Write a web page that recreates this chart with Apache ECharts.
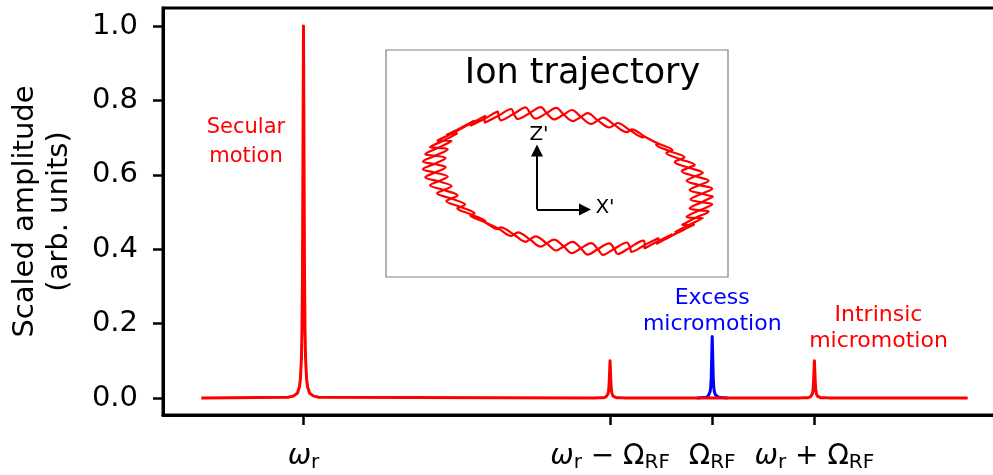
<!DOCTYPE html>
<html>
<head>
<meta charset="utf-8">
<script src="https://cdn.jsdelivr.net/npm/echarts@6.0.0/dist/echarts.min.js"></script>
<style>
  html, body { margin: 0; padding: 0; background: #fff; }
  #chart { width: 993px; height: 475px; }
</style>
</head>
<body>
<div id="chart"></div>
<script>
// Motional spectrum: red = secular motion + intrinsic micromotion sidebands,
// blue = excess micromotion at the RF drive frequency.
const spectrumFreq = [
  2.00,
  2.85, 2.90, 2.94, 2.96, 2.97, 2.98, 2.985, 2.99, 2.995, 3.00, 3.005, 3.01, 3.015, 3.02, 3.03, 3.04, 3.06, 3.10, 3.15,
  5.85, 5.90, 5.94, 5.96, 5.97, 5.98, 5.985, 5.99, 5.995, 6.00, 6.005, 6.01, 6.015, 6.02, 6.03, 6.04, 6.06, 6.10, 6.15,
  7.85, 7.90, 7.94, 7.96, 7.97, 7.98, 7.985, 7.99, 7.995, 8.00, 8.005, 8.01, 8.015, 8.02, 8.03, 8.04, 8.06, 8.10, 8.15,
  9.50
];
const spectrumAmp = [
  0.000,
  0.002, 0.005, 0.013, 0.030, 0.052, 0.109, 0.179, 0.329, 0.662, 1.000, 0.662, 0.329, 0.179, 0.109, 0.052, 0.030, 0.013, 0.005, 0.002,
  0.000, 0.001, 0.001, 0.003, 0.005, 0.011, 0.018, 0.033, 0.066, 0.100, 0.066, 0.033, 0.018, 0.011, 0.005, 0.003, 0.001, 0.001, 0.000,
  0.000, 0.001, 0.001, 0.003, 0.005, 0.011, 0.018, 0.033, 0.066, 0.100, 0.066, 0.033, 0.018, 0.011, 0.005, 0.003, 0.001, 0.001, 0.000,
  0.000
];
const excessFreq = [6.85, 6.90, 6.94, 6.96, 6.97, 6.98, 6.985, 6.99, 6.995, 7.00, 7.005, 7.01, 7.015, 7.02, 7.03, 7.04, 7.06, 7.10, 7.15];
const excessAmp  = [0.000, 0.001, 0.002, 0.005, 0.009, 0.018, 0.030, 0.054, 0.109, 0.165, 0.109, 0.054, 0.030, 0.018, 0.009, 0.005, 0.002, 0.001, 0.000];

// Frequency axis ticks and their labels
const xTickValues = [3, 6, 7, 8];
const xTickLabels = [
  '{w|ω}{s|r}',
  '{w|ω}{s|r}{o| − Ω}{s|RF}',
  '{o|Ω}{s|RF}',
  '{w|ω}{s|r}{o| + Ω}{s|RF}'
];
const yTickValues = [0, 0.2, 0.4, 0.6, 0.8, 1.0];

// Ion trajectory in the X'-Z' plane, two secular orbits.
// Turning points of the RF micromotion along the path:
const trajX = [
  1.454, 1.216, 1.406, 1.137, 1.267, 0.983, 1.044, 0.764, 0.754, 0.496,
  0.414, 0.196, 0.047, -0.118, -0.324, -0.423, -0.672, -0.701, -0.977, -0.934,
  -1.218, -1.105, -1.380, -1.203, -1.451, -1.224, -1.427, -1.164, -1.310, -1.028,
  -1.107, -0.824, -0.832, -0.567, -0.502, -0.273, -0.140, 0.039, 0.232, 0.349,
  0.589, 0.636, 0.906, 0.881, 1.165, 1.068, 1.348, 1.186, 1.442,
  1.226, 1.442, 1.186, 1.348, 1.068, 1.165, 0.881, 0.906, 0.636, 0.589,
  0.349, 0.232, 0.039, -0.140, -0.273, -0.502, -0.567, -0.832, -0.824, -1.107,
  -1.028, -1.310, -1.164, -1.427, -1.224, -1.451, -1.203, -1.380, -1.105, -1.218,
  -0.934, -0.977, -0.701, -0.672, -0.423, -0.324, -0.118, 0.047, 0.196, 0.414,
  0.496, 0.754, 0.764, 1.044, 0.983, 1.267, 1.137, 1.406, 1.216
];
const trajZ = [
  -0.156, -0.091, 0.003, 0.098, 0.161, 0.280, 0.308, 0.445, 0.436, 0.580,
  0.535, 0.678, 0.599, 0.731, 0.623, 0.736, 0.607, 0.693, 0.552, 0.605,
  0.460, 0.477, 0.338, 0.318, 0.194, 0.138, 0.037, -0.051, -0.122, -0.236,
  -0.273, -0.406, -0.406, -0.550, -0.513, -0.657, -0.586, -0.722, -0.621, -0.739,
  -0.615, -0.708, -0.569, -0.631, -0.486, -0.512, -0.371, -0.360, -0.232,
  -0.185, -0.077, 0.003, 0.082, 0.191, 0.237, 0.366, 0.375, 0.517, 0.489,
  0.634, 0.571, 0.710, 0.616, 0.739, 0.620, 0.720, 0.584, 0.654, 0.510,
  0.545, 0.402, 0.401, 0.268, 0.230, 0.117, 0.044, -0.043, -0.145, -0.199,
  -0.324, -0.343, -0.482, -0.463, -0.608, -0.554, -0.695, -0.609, -0.736, -0.623,
  -0.730, -0.597, -0.675, -0.532, -0.576, -0.432, -0.440, -0.304, -0.275
];
// Points where the two orbits cross (micromotion passing through the secular path)
const crossX = [
  1.337, 1.315, 1.272, 1.207, 1.123, 1.020, 0.901, 0.767, 0.620, 0.463,
  0.298, 0.129, -0.043, -0.214, -0.381, -0.542, -0.695, -0.835, -0.963, -1.074,
  -1.168, -1.242, -1.296, -1.329, -1.340, -1.329, -1.296, -1.242, -1.168, -1.074,
  -0.963, -0.835, -0.695, -0.542, -0.381, -0.214, -0.043, 0.129, 0.298, 0.463,
  0.620, 0.767, 0.901, 1.020, 1.123, 1.207, 1.272, 1.315, 1.337
];
const crossZ = [
  -0.127, -0.041, 0.047, 0.133, 0.218, 0.298, 0.374, 0.444, 0.507, 0.561,
  0.606, 0.641, 0.665, 0.679, 0.681, 0.672, 0.653, 0.622, 0.581, 0.531,
  0.472, 0.405, 0.332, 0.253, 0.170, 0.084, -0.003, -0.090, -0.176, -0.259,
  -0.337, -0.410, -0.476, -0.535, -0.584, -0.624, -0.654, -0.673, -0.681, -0.678,
  -0.664, -0.639, -0.603, -0.557, -0.503, -0.440, -0.369, -0.293, -0.212
];

const FONT = 'DejaVu Sans';
const RED = '#ff0000';
const BLUE = '#0000ff';

// Path order: turning point, then the following crossing point; closed at the end.
const trajectory = [];
trajX.forEach((x, n) => {
  trajectory.push([x, trajZ[n]]);
  const c = n % crossX.length;
  trajectory.push([crossX[c], crossZ[c]]);
});
trajectory.push([trajX[0], trajZ[0]]);

const chart = echarts.init(document.getElementById('chart'), null, { renderer: 'canvas' });

const textItem = (value, text, color, size, lh) => ({
  value: value,
  label: {
    show: true, position: 'inside', formatter: text, color: color,
    fontFamily: FONT, fontSize: size, lineHeight: lh, align: 'center', verticalAlign: 'middle'
  }
});
const hiddenItem = { color: 'rgba(0,0,0,0)', opacity: 1 };

chart.setOption({
  animation: false,
  backgroundColor: '#fff',
  grid: [
    { left: 163, top: 8, width: 843, height: 407, outerBoundsMode: 'none', containLabel: false,
      show: true, borderColor: '#000', borderWidth: 3, backgroundColor: 'transparent' },
    { left: 386, top: 50, width: 342, height: 227, outerBoundsMode: 'none', containLabel: false,
      show: true, borderColor: '#808080', borderWidth: 1.2, backgroundColor: '#fff' }
  ],
  xAxis: [
    {
      gridIndex: 0, type: 'value', min: 1.625, max: 9.875,
      axisLine: { show: true, onZero: false, lineStyle: { color: '#000', width: 3 } },
      splitLine: { show: false },
      axisTick: { show: true, customValues: xTickValues, length: 10, lineStyle: { color: '#000', width: 2.5 } },
      axisLabel: {
        customValues: xTickValues, margin: 28, color: '#000',
        formatter: v => xTickLabels[xTickValues.indexOf(v)] || '',
        rich: {
          w: { fontFamily: FONT, fontStyle: 'italic', fontSize: 28, lineHeight: 30, verticalAlign: 'top', color: '#000' },
          o: { fontFamily: FONT, fontSize: 28, lineHeight: 30, verticalAlign: 'top', color: '#000' },
          s: { fontFamily: FONT, fontSize: 20, lineHeight: 10, verticalAlign: 'bottom', color: '#000' }
        }
      }
    },
    { gridIndex: 1, type: 'value', min: -1.82, max: 1.60, show: false }
  ],
  yAxis: [
    {
      gridIndex: 0, type: 'value', min: -0.0457, max: 1.0484,
      axisLine: { show: true, onZero: false, lineStyle: { color: '#000', width: 3 } },
      splitLine: { show: false },
      axisTick: { show: true, customValues: yTickValues, length: 10, lineStyle: { color: '#000', width: 2.5 } },
      axisLabel: {
        customValues: yTickValues, margin: 25, color: '#000', fontFamily: FONT, fontSize: 29,
        formatter: v => v.toFixed(1)
      },
      name: 'Scaled amplitude\n(arb. units)', nameLocation: 'middle', nameGap: 87,
      nameTextStyle: { color: '#000', fontFamily: FONT, fontSize: 29, lineHeight: 34, align: 'center' }
    },
    { gridIndex: 1, type: 'value', min: -0.96, max: 1.31, show: false }
  ],
  series: [
    {
      type: 'line', xAxisIndex: 0, yAxisIndex: 0, silent: true,
      data: excessFreq.map((f, i) => [f, excessAmp[i]]),
      showSymbol: false, symbol: 'none',
      lineStyle: { color: BLUE, width: 3, join: 'round' }, z: 3
    },
    {
      type: 'line', xAxisIndex: 0, yAxisIndex: 0, silent: true,
      data: spectrumFreq.map((f, i) => [f, spectrumAmp[i]]),
      showSymbol: false, symbol: 'none',
      lineStyle: { color: RED, width: 3, join: 'round' }, z: 4
    },
    {
      type: 'scatter', xAxisIndex: 0, yAxisIndex: 0, silent: true,
      symbolSize: 1, itemStyle: hiddenItem,
      data: [
        textItem([2.437, 0.687], 'Secular\nmotion', RED, 21, 29),
        textItem([7.0, 0.234], 'Excess\nmicromotion', BLUE, 22, 26),
        textItem([8.627, 0.188], 'Intrinsic\nmicromotion', RED, 22, 26)
      ]
    },
    {
      type: 'line', xAxisIndex: 1, yAxisIndex: 1, silent: true,
      data: trajectory,
      showSymbol: false, symbol: 'none', smooth: 0.35,
      lineStyle: { color: RED, width: 2.2 }, z: 6
    },
    {
      type: 'lines', coordinateSystem: 'cartesian2d', xAxisIndex: 1, yAxisIndex: 1, silent: true,
      symbol: ['none', 'triangle'], symbolSize: 12,
      lineStyle: { color: '#000', width: 2, opacity: 1, curveness: 0 },
      data: [
        { coords: [[-0.31, -0.285], [-0.31, 0.305]] },
        { coords: [[-0.31, -0.285], [0.17, -0.285]] }
      ], z: 6
    },
    {
      type: 'scatter', xAxisIndex: 1, yAxisIndex: 1, silent: true,
      symbolSize: 1, itemStyle: hiddenItem,
      data: [
        textItem([0.145, 1.075], 'Ion trajectory', '#000', 35, 40),
        textItem([-0.29, 0.46], "Z'", '#000', 20, 24),
        textItem([0.37, -0.27], "X'", '#000', 20, 24)
      ], z: 7
    }
  ]
});
</script>
</body>
</html>
